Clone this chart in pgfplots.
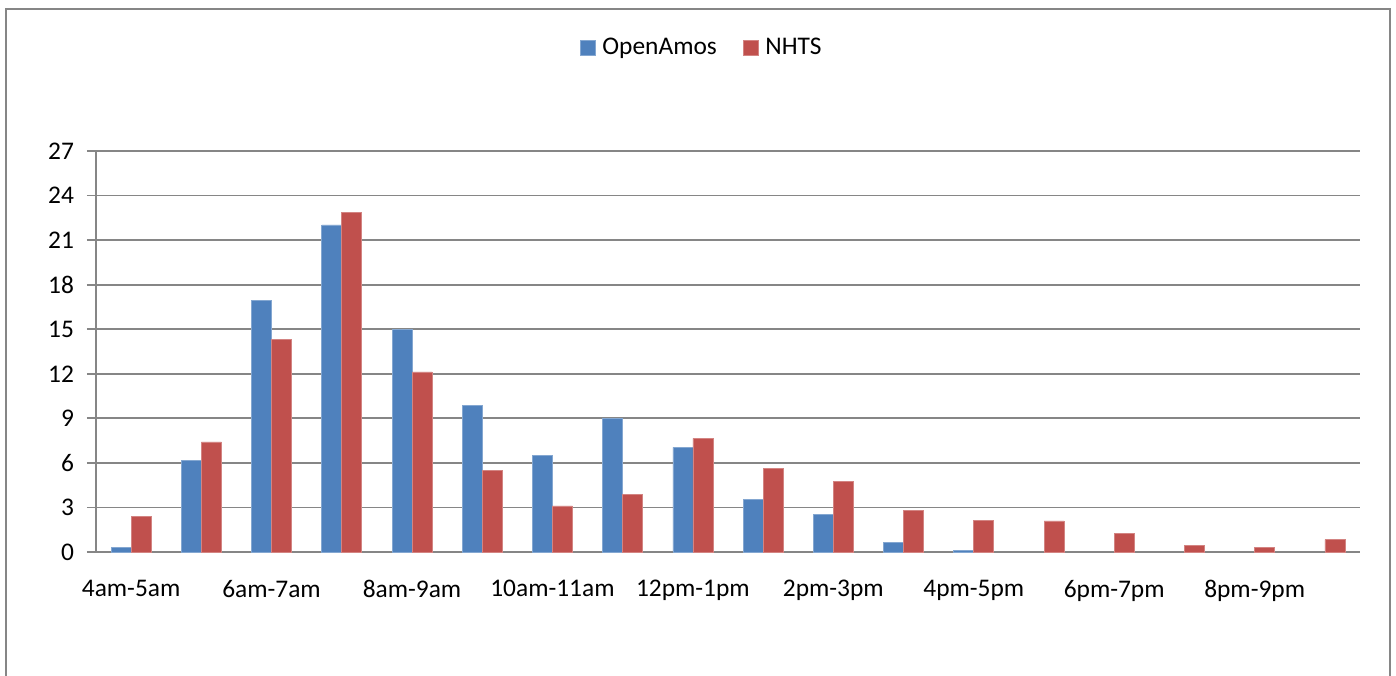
\documentclass[border=0pt]{standalone}
\usepackage{pgfplots}
\pgfplotsset{compat=1.18}
\usepackage{fontspec}
\setmainfont{Carlito}
\definecolor{bblue}{HTML}{4F81BD}
\definecolor{rred}{HTML}{C0504D}
\definecolor{gline}{HTML}{868686}
\begin{document}
\begin{tikzpicture}
\useasboundingbox (0,0) rectangle (698pt,337.5pt);
\draw[gline, line width=1pt] (3pt,-2pt) -- (3pt,333pt) -- (695pt,333pt) -- (695pt,-2pt);
\begin{axis}[
  at={(48pt,61.5pt)}, anchor=south west,
  scale only axis, width=632pt, height=200.5pt,
  font=\fontsize{12.7}{15}\selectfont,
  /pgf/number format/assume math mode=true,
  ybar=0pt, bar width=10pt,
  xmin=-0.5, xmax=17.5, ymin=0, ymax=27,
  ytick={0,3,...,27},
  xtick={0,2,...,16},
  xticklabels={4am-5am,6am-7am,8am-9am,10am-11am,12pm-1pm,2pm-3pm,4pm-5pm,6pm-7pm,8pm-9pm},
  minor xtick={-0.5,0.5,...,17.5},
  xtick style={draw=none},
  tick align=outside,
  major tick length=4.5pt, minor tick length=4.5pt,
  minor x tick style={gline, line width=0.9pt},
  y tick style={gline, line width=0.9pt},
  axis x line*=bottom, axis y line*=left,
  axis line style={gline, line width=0.9pt, -},
  ymajorgrids, grid style={gline, line width=0.9pt},
  yticklabel style={xshift=-3pt},
  xticklabel style={yshift=-6pt},
  legend style={at={(0.48,1.257)}, anchor=center, draw=none, legend columns=2,
    font=\fontsize{12.7}{15}\selectfont, inner sep=0pt,
    /tikz/every even column/.append style={column sep=11pt}},
  legend image code/.code={\fill[#1] (0pt,-3.75pt) rectangle (7.5pt,3.75pt); \path (9pt,0pt);},
]
\addplot[fill=bblue, draw=bblue!70!white, line width=0.3pt] coordinates {
(0,0.32) (1,6.15) (2,16.95) (3,22.02) (4,15.0) (5,9.88) (6,6.49) (7,8.98) (8,7.05)
(9,3.55) (10,2.54) (11,0.65) (12,0.11)};
\addplot[fill=rred, draw=rred!70!white, line width=0.3pt] coordinates {
(0,2.42) (1,7.41) (2,14.32) (3,22.87) (4,12.12) (5,5.48) (6,3.10) (7,3.88) (8,7.65)
(9,5.63) (10,4.78) (11,2.81) (12,2.12) (13,2.10) (14,1.24) (15,0.43) (16,0.32) (17,0.84)};
\legend{OpenAmos,NHTS}
\end{axis}
\end{tikzpicture}
\end{document}
